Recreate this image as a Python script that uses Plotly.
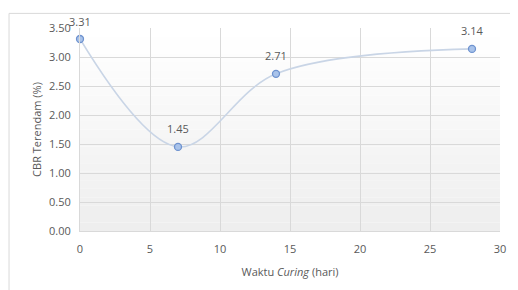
import plotly.graph_objects as go

curing_days = [0, 7, 14, 28]
cbr_soaked = [3.31, 1.45, 2.71, 3.14]
cbr_labels = ["3.31", "1.45", "2.71", "3.14"]
x_ticks = [0, 5, 10, 15, 20, 25, 30]
y_ticks = [0.0, 0.5, 1.0, 1.5, 2.0, 2.5, 3.0, 3.5]
y_tick_labels = ["0.00", "0.50", "1.00", "1.50", "2.00", "2.50", "3.00", "3.50"]

FONT = "Open Sans, Liberation Sans, sans-serif"
TXT = "#595959"

fig = go.Figure()
fig.add_trace(go.Scatter(
    x=curing_days, y=cbr_soaked, mode="lines+markers",
    line=dict(shape="spline", smoothing=1.0, color="#c9d5e6", width=1.6),
    marker=dict(size=7, color="#a9c3ea", line=dict(color="#6e92cf", width=1.3)),
    cliponaxis=False, showlegend=False, hoverinfo="x+y",
))

annotations = [dict(x=xv, y=yv, text=lab, showarrow=False, yshift=18,
                    font=dict(family=FONT, size=11, color=TXT))
               for xv, yv, lab in zip(curing_days, cbr_soaked, cbr_labels)]

# plot-area vertical gradient (white -> light gray)
shapes = []
n = 24
for i in range(n):
    t = i / (n - 1)
    g = int(round(255 - 17 * (1 - t)))
    shapes.append(dict(type="rect", xref="paper", yref="paper",
                       x0=0, x1=1, y0=i / n, y1=(i + 1) / n,
                       fillcolor=f"rgb({g},{g},{g})", line=dict(width=0), layer="below"))
# outer chart border
shapes.append(dict(type="rect", xref="paper", yref="paper",
                   x0=-0.169, x1=1.08, y0=-0.35, y1=1.072,
                   line=dict(color="#d9d9d9", width=1), fillcolor="rgba(0,0,0,0)", layer="below"))

fig.update_layout(
    width=510, height=282,
    margin=dict(l=72, r=15, t=16, b=59),
    paper_bgcolor="white", plot_bgcolor="white",
    font=dict(family=FONT, size=11, color=TXT),
    shapes=shapes, annotations=annotations,
    xaxis=dict(range=[0, 30], tickvals=x_ticks, ticktext=[str(v) for v in x_ticks],
               showgrid=True, gridcolor="#d9d9d9", gridwidth=1,
               showline=True, linecolor="#d9d9d9", zeroline=False,
               ticks="", ticklabelstandoff=8,
               tickfont=dict(family=FONT, size=11, color=TXT),
               title=dict(text="Waktu <i>Curing</i> (hari)", standoff=13,
                          font=dict(family=FONT, size=11, color=TXT))),
    yaxis=dict(range=[0, 3.5], tickvals=y_ticks, ticktext=y_tick_labels,
               showgrid=True, gridcolor="#d9d9d9", gridwidth=1,
               showline=True, linecolor="#d9d9d9", zeroline=False,
               ticks="", ticklabelstandoff=6,
               tickfont=dict(family=FONT, size=11, color=TXT),
               title=dict(text="CBR Terendam (%)", standoff=5,
                          font=dict(family=FONT, size=11, color=TXT))),
)

fig.write_html("out.html")
